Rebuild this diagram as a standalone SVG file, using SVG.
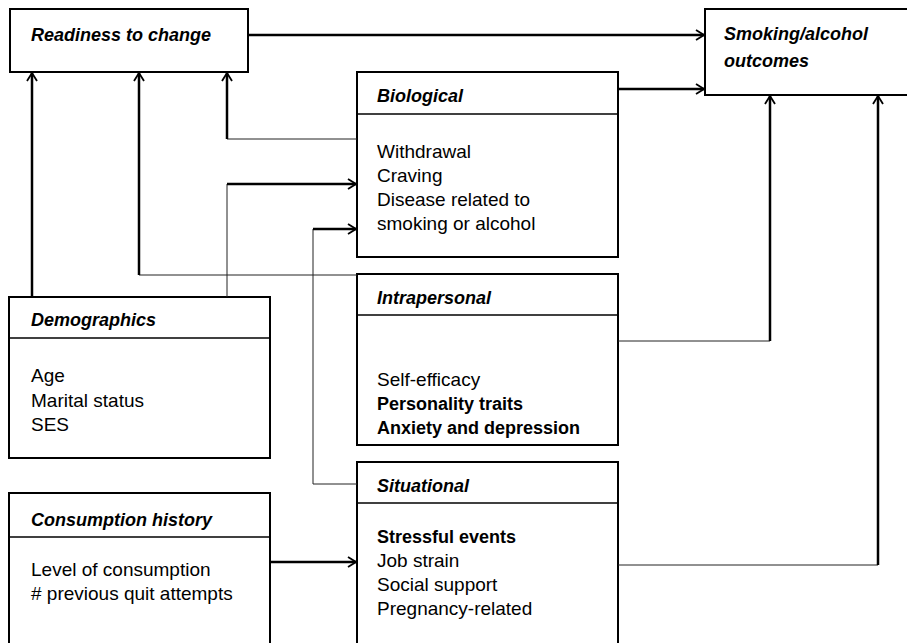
<svg xmlns="http://www.w3.org/2000/svg" width="907" height="643" viewBox="0 0 907 643">
<defs>
<style>
.box{fill:#fff;stroke:#000;stroke-width:2}
.div{stroke:#000;stroke-width:1.5}
.thick{fill:none;stroke:#000;stroke-width:2.5}
.thin{fill:none;stroke:#222;stroke-width:1}
.h{font-family:"Liberation Sans",Arial,sans-serif;font-size:18px;font-weight:bold;font-style:italic;fill:#000}
.t{font-family:"Liberation Sans",Arial,sans-serif;font-size:19px;fill:#000}
.b{font-weight:bold;font-size:18px}
</style>
<marker id="ah" markerWidth="10" markerHeight="12" refX="9" refY="6" orient="auto" markerUnits="userSpaceOnUse">
<path d="M1,1 L9,6 L1,11" fill="none" stroke="#000" stroke-width="1.8"/>
</marker>
</defs>
<rect width="907" height="643" fill="#fff"/>
<g id="readiness">
<rect class="box" x="10" y="9" width="238" height="63"/>
<text class="h" x="31" y="41">Readiness to change</text>
</g>
<g id="outcomes">
<rect class="box" x="705" y="9" width="220" height="86"/>
<text class="h" x="724" y="40">Smoking/alcohol</text>
<text class="h" x="724" y="67">outcomes</text>
</g>
<g id="biological">
<rect class="box" x="357" y="72" width="261" height="185"/>
<line class="div" x1="357" y1="114" x2="618" y2="114"/>
<text class="h" x="377" y="102">Biological</text>
<text class="t" x="377" y="158">Withdrawal</text>
<text class="t" x="377" y="182">Craving</text>
<text class="t" x="377" y="206">Disease related to</text>
<text class="t" x="377" y="230">smoking or alcohol</text>
</g>
<g id="intrapersonal">
<rect class="box" x="357" y="274" width="261" height="171"/>
<line class="div" x1="357" y1="315" x2="618" y2="315"/>
<text class="h" x="377" y="304">Intrapersonal</text>
<text class="t" x="377" y="386">Self-efficacy</text>
<text class="t b" x="377" y="410">Personality traits</text>
<text class="t b" x="377" y="434">Anxiety and depression</text>
</g>
<g id="demographics">
<rect class="box" x="9" y="297" width="261" height="161"/>
<line class="div" x1="9" y1="338" x2="270" y2="338"/>
<text class="h" x="31" y="326">Demographics</text>
<text class="t" x="31" y="382">Age</text>
<text class="t" x="31" y="407">Marital status</text>
<text class="t" x="31" y="431">SES</text>
</g>
<g id="situational">
<rect class="box" x="357" y="462" width="261" height="200"/>
<line class="div" x1="357" y1="503" x2="618" y2="503"/>
<text class="h" x="377" y="492">Situational</text>
<text class="t b" x="377" y="543">Stressful events</text>
<text class="t" x="377" y="567">Job strain</text>
<text class="t" x="377" y="591">Social support</text>
<text class="t" x="377" y="615">Pregnancy-related</text>
</g>
<g id="consumption">
<rect class="box" x="9" y="493" width="261" height="170"/>
<line class="div" x1="9" y1="537" x2="270" y2="537"/>
<text class="h" x="31" y="526">Consumption history</text>
<text class="t" x="31" y="576">Level of consumption</text>
<text class="t" x="31" y="600"># previous quit attempts</text>
</g>
<g id="connectors">
<line class="thick" x1="248" y1="35" x2="704" y2="35" marker-end="url(#ah)"/>
<line class="thick" x1="618" y1="89" x2="704" y2="89" marker-end="url(#ah)"/>
<line class="thick" x1="32" y1="297" x2="32" y2="73" marker-end="url(#ah)"/>
<polyline class="thin" points="357,275 139,275"/>
<line class="thick" x1="139" y1="275" x2="139" y2="73" marker-end="url(#ah)"/>
<polyline class="thin" points="357,139 227,139"/>
<line class="thick" x1="227" y1="139" x2="227" y2="73" marker-end="url(#ah)"/>
<polyline class="thin" points="227,297 227,184"/>
<line class="thick" x1="227" y1="184" x2="356" y2="184" marker-end="url(#ah)"/>
<polyline class="thin" points="357,484 313,484 313,229"/>
<line class="thick" x1="313" y1="229" x2="356" y2="229" marker-end="url(#ah)"/>
<polyline class="thin" points="618,341 770,341"/>
<line class="thick" x1="770" y1="341" x2="770" y2="96" marker-end="url(#ah)"/>
<polyline class="thin" points="618,565 878,565"/>
<line class="thick" x1="878" y1="565" x2="878" y2="96" marker-end="url(#ah)"/>
<line class="thick" x1="270" y1="562" x2="356" y2="562" marker-end="url(#ah)"/>
</g>
</svg>
